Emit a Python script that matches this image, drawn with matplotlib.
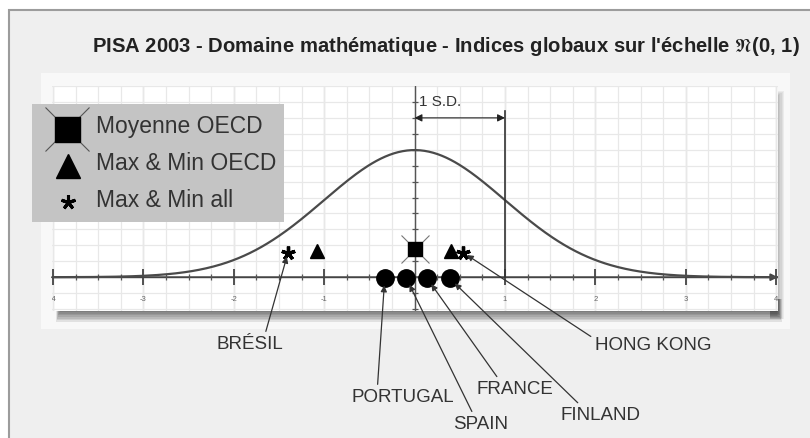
import numpy as np
import matplotlib
matplotlib.use("Agg")
import matplotlib.pyplot as plt
from matplotlib.patches import Rectangle

plt.rcParams['font.family'] = ['Liberation Sans', 'DejaVu Sans']
plt.rcParams['mathtext.fontset'] = 'dejavusans'

W, H = 810, 439

# ---------------- data ----------------
title = "PISA 2003 - Domaine mathématique - Indices globaux sur l'échelle $\\mathfrak{N}$(0, 1)"
x_tick_values = [-4, -3, -2, -1, 1, 2, 3, 4]
x_tick_labels = ["-4", "-3", "-2", "-1", "1", "2", "3", "4"]
oecd_mean_x = [0.0]
oecd_mean_y = [0.087]
oecd_minmax_x = [-1.08, 0.40]
oecd_minmax_y = [0.081, 0.081]
all_minmax_x = [-1.40, 0.54]
all_minmax_y = [0.077, 0.077]
countries = ["PORTUGAL", "SPAIN", "FRANCE", "FINLAND"]
country_x = [-0.33, -0.09, 0.14, 0.39]
country_y = [-0.004, -0.004, -0.004, -0.004]
extreme_names = ["BRÉSIL", "HONG KONG"]
sd_x = [0.0, 1.0]
sd_arrow_y = 0.50
sd_line_top = 0.52
legend_labels = ["Moyenne OECD", "Max & Min OECD", "Max & Min all"]

# ---------------- figure ----------------
fig = plt.figure(figsize=(W / 100, H / 100), dpi=100)
fig.patch.set_facecolor('white')

bg = fig.add_axes([0, 0, 1, 1], zorder=0)
bg.set_xlim(0, W); bg.set_ylim(H, 0); bg.axis('off')
bg.add_patch(Rectangle((9, 11), W, H, fc='#efefef', ec='#9c9c9c', lw=1.5))
bg.add_patch(Rectangle((41, 74), 749, 256, fc='#f8f8f8', ec='none'))
# shadow of the panel
for i in range(7):
    bg.add_patch(Rectangle((56 + i * 0.6, 300), 726 - i * 1.2, 23 - i * 1.7,
                           fc='black', ec='none', alpha=0.09))
    bg.add_patch(Rectangle((770, 92 + i), 14 - i * 1.2, 228 - i * 1.5,
                           fc='black', ec='none', alpha=0.05))

ax = fig.add_axes([52 / W, 1 - 312 / H, 726 / W, 225 / H], zorder=1)
ax.set_facecolor('white')
ax.set_xlim(-4.01, 4.02)
ax.set_ylim(-0.106, 0.595)
for s in ax.spines.values():
    s.set_visible(False)
ax.set_xticks(np.arange(-4, 4.01, 0.25))
ax.set_yticks(np.arange(-0.1, 0.61, 0.05))
ax.tick_params(length=0, labelbottom=False, labelleft=False)
ax.grid(True, color='#e8e8e8', lw=0.9)
for xv in x_tick_values + [0]:
    ax.axvline(xv, color='#d8d8d8', lw=1.0, zorder=0.5)

# y axis and x axis
ax.axvline(0, color='#555555', lw=1.0, zorder=2)
ax.annotate('', xy=(4.02, 0), xytext=(-4.01, 0),
            arrowprops=dict(arrowstyle='-|>', lw=1.4, color='#444444',
                            mutation_scale=10, shrinkA=0, shrinkB=0), zorder=2)
minor = [v for v in np.arange(-4, 4.01, 0.25) if abs(v - round(v)) > 1e-9]
ax.plot(minor, np.zeros(len(minor)), ls='none', marker='|', ms=4, mew=0.9,
        color='#555555', zorder=2)
ax.plot(x_tick_values, np.zeros(len(x_tick_values)), ls='none', marker='|',
        ms=12, mew=1.3, color='#444444', zorder=2)
yt = np.arange(-0.1, 0.6, 0.05)
ax.plot(np.zeros(len(yt)), yt, ls='none', marker='_', ms=4, mew=0.9,
        color='#555555', zorder=2)
for xv, lab in zip(x_tick_values, x_tick_labels):
    ax.text(xv, -0.066, lab, fontsize=5.5, color='#666666', ha='center',
            va='center', clip_on=True)

# normal curve
xs = np.linspace(-4.01, 4.02, 500)
ax.plot(xs, np.exp(-xs ** 2 / 2) / np.sqrt(2 * np.pi), color='#4a4a4a', lw=1.6, zorder=3)

# 1 S.D. bracket
ax.plot([sd_x[1], sd_x[1]], [0, sd_line_top], color='#333333', lw=1.2, zorder=3)
ax.annotate('', xy=(sd_x[1], sd_arrow_y), xytext=(sd_x[0], sd_arrow_y),
            arrowprops=dict(arrowstyle='<|-|>', lw=0.8, color='#222222',
                            mutation_scale=11, shrinkA=0, shrinkB=0), zorder=3)
ax.text(0.05, 0.553, "1 S.D.", fontsize=11, color='#333333', ha='left', va='center')

# markers
ax.plot(oecd_mean_x, oecd_mean_y, ls='none', marker='x', ms=19.5, mew=0.8,
        color='#777777', zorder=4)
ax.plot(oecd_mean_x, oecd_mean_y, ls='none', marker='s', ms=10, color='black', zorder=5)
ax.plot(oecd_minmax_x, oecd_minmax_y, ls='none', marker='^', ms=9.5, color='black', zorder=5)
ax.plot(all_minmax_x, all_minmax_y, ls='none', marker=(5, 2, 0), ms=10, mew=2.4,
        color='black', zorder=5)
ax.plot(country_x, country_y, ls='none', marker='o', ms=12.5, color='black', zorder=5)

# ---------------- overlay (legend, title, labels) ----------------
fg = fig.add_axes([0, 0, 1, 1], zorder=2)
fg.set_xlim(0, W); fg.set_ylim(H, 0); fg.axis('off')
fg.patch.set_alpha(0)

fg.text(92, 47, title, fontsize=14.6, ha='left', va='center', color='#222222',
        fontweight='bold')

fg.add_patch(Rectangle((32, 105), 252, 118, fc='#c4c4c4', ec='none'))
fg.plot([66.7], [130], marker='x', ms=31, mew=0.8, color='#555555')
fg.plot([66.7], [130], marker='s', ms=18, color='black')
fg.plot([68], [167], marker='^', ms=17, color='black')
fg.plot([67.5], [203], marker=(5, 2, 0), ms=10.5, mew=2.2, color='black')
for lab, yy in zip(legend_labels, [127, 164, 201]):
    fg.text(96, yy, lab, fontsize=16.5, ha='left', va='center', color='#333333')

# country labels with arrows
label_pos = [(403, 398), (481, 425), (515, 390), (600, 416)]
label_rel = [(0.25, 1.0), (0.37, 1.0), (0.30, 1.0), (0.27, 1.0)]
for name, cx, cy, pos, rel in zip(countries, country_x, country_y, label_pos, label_rel):
    ax.annotate(name, xy=(cx, cy), xycoords='data', xytext=pos, textcoords=fg.transData,
                fontsize=13.5, color='#333333', ha='center', va='center',
                arrowprops=dict(arrowstyle='-|>', lw=0.9, color='#333333',
                                mutation_scale=9, shrinkA=1, shrinkB=5, relpos=rel),
                zorder=6)
ext_pos = [(250, 345), (653, 346)]
ext_rel = [(0.72, 1.0), (0.0, 0.85)]
for name, ex, ey, pos, rel in zip(extreme_names, all_minmax_x, all_minmax_y, ext_pos, ext_rel):
    ax.annotate(name, xy=(ex, ey), xycoords='data', xytext=pos, textcoords=fg.transData,
                fontsize=13.5, color='#333333', ha='center', va='center',
                arrowprops=dict(arrowstyle='-|>', lw=0.9, color='#333333',
                                mutation_scale=9, shrinkA=1, shrinkB=3, relpos=rel),
                zorder=6)

fig.savefig('out.png', dpi=100)
